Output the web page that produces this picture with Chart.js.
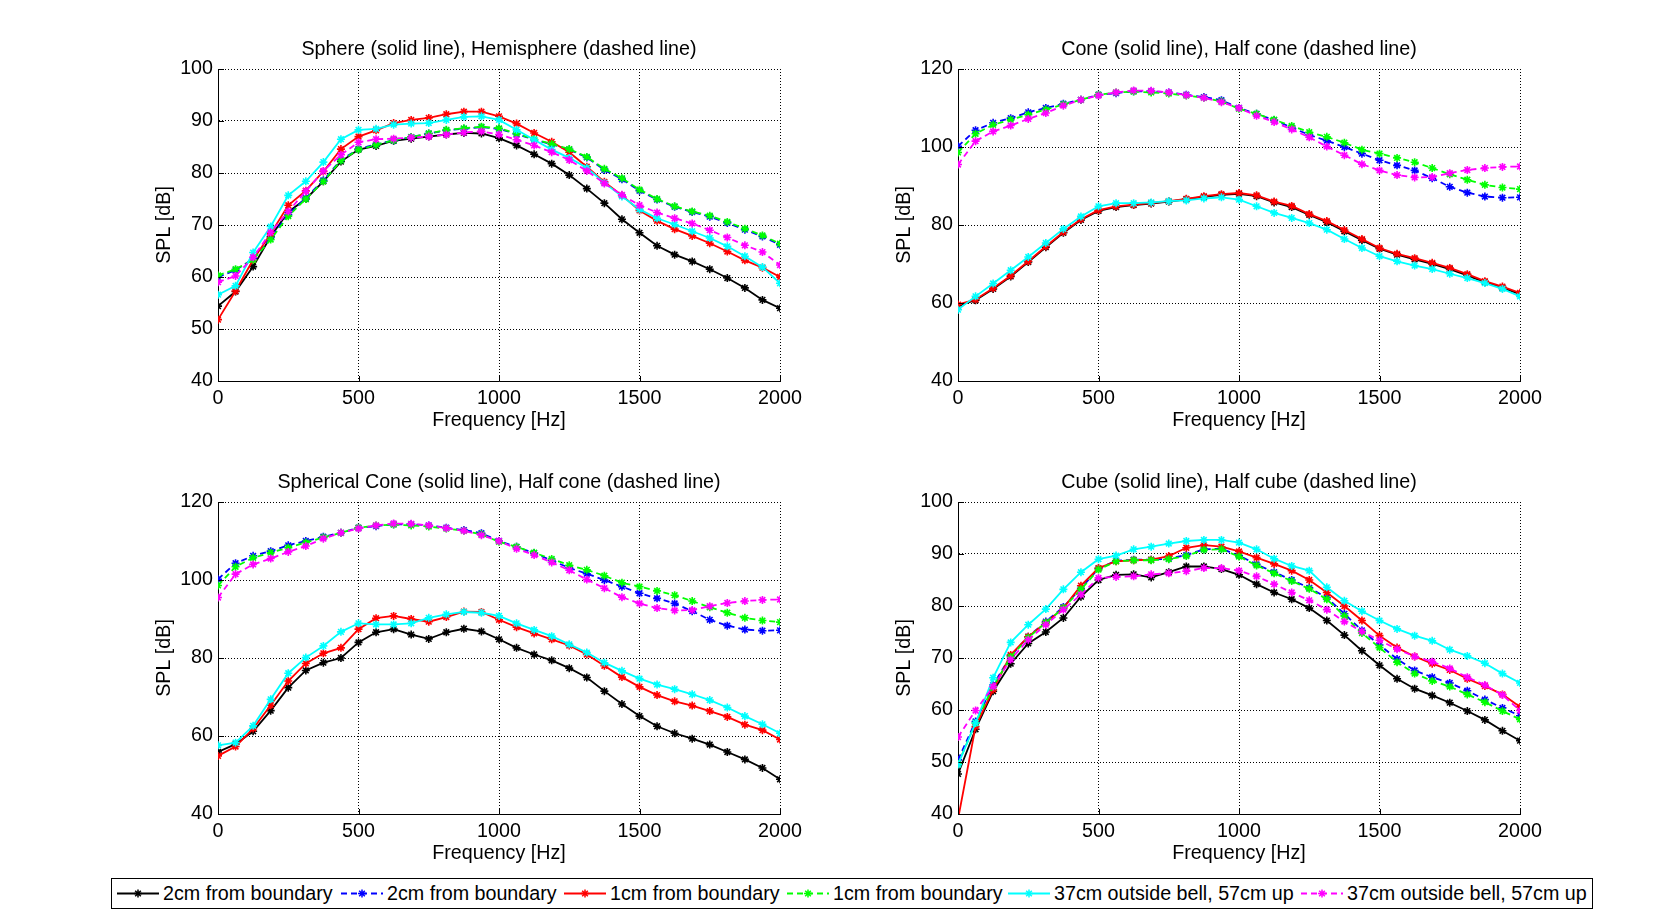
<!DOCTYPE html>
<html>
<head>
<meta charset="utf-8">
<script src="https://cdn.jsdelivr.net/npm/chart.js@4.4.1/dist/chart.umd.min.js"></script>
<style>
  html, body { margin: 0; padding: 0; background: #fff; width: 1680px; height: 915px; overflow: hidden; }
  .panel { position: absolute; }
  .panel canvas { display: block; }
  #legend { position: absolute; left: 111px; top: 878px; width: 1482px; height: 31px; box-sizing: border-box;
            border: 1px solid #000; background: #fff; font-family: "Liberation Sans", Arial, Helvetica, sans-serif; font-size: 19.7px; color: #000; }
  #legend span { position: absolute; top: 0; height: 29px; line-height: 29px; white-space: nowrap; }
  #legend svg { position: absolute; left: -1px; top: -1px; }
</style>
</head>
<body>
<div class="panel" style="left:118px;top:19px"><canvas id="c1" width="712" height="422"></canvas></div>
<div class="panel" style="left:858px;top:19px"><canvas id="c2" width="712" height="422"></canvas></div>
<div class="panel" style="left:118px;top:452px"><canvas id="c3" width="712" height="422"></canvas></div>
<div class="panel" style="left:858px;top:452px"><canvas id="c4" width="712" height="422"></canvas></div>
<div id="legend"></div>
<script>
// ---------------- data ----------------
const freq = [0, 62.5, 125, 187.5, 250, 312.5, 375, 437.5, 500, 562.5, 625, 687.5, 750, 812.5, 875, 937.5,
  1000, 1062.5, 1125, 1187.5, 1250, 1312.5, 1375, 1437.5, 1500, 1562.5, 1625, 1687.5, 1750, 1812.5, 1875, 1937.5, 2000];

const seriesNames = ['2cm from boundary', '2cm from boundary', '1cm from boundary', '1cm from boundary',
  '37cm outside bell, 57cm up', '37cm outside bell, 57cm up'];

const panelTitles = [
  'Sphere (solid line), Hemisphere (dashed line)',
  'Cone (solid line), Half cone (dashed line)',
  'Spherical Cone (solid line), Half cone (dashed line)',
  'Cube (solid line), Half cube (dashed line)'
];

const xTicks = [0, 500, 1000, 1500, 2000];
const yTicksA = [40, 50, 60, 70, 80, 90, 100];
const yTicksB = [40, 60, 80, 100, 120];

// Sphere / Hemisphere
const sphereBlack   = [54.4, 57.2, 62.0, 67.8, 72.5, 75.0, 78.4, 82.2, 84.5, 85.2, 86.2, 86.6, 87.0, 87.4, 87.7, 87.6, 86.7, 85.3, 83.6, 81.8, 79.6, 77.0, 74.2, 71.1, 68.5, 66.0, 64.3, 63.0, 61.5, 59.8, 57.9, 55.6, 54.0];
const sphereBlue    = [60.0, 61.3, 63.5, 67.6, 72.0, 75.2, 78.6, 82.5, 84.6, 85.5, 86.3, 86.9, 87.6, 88.2, 88.5, 88.8, 88.5, 87.5, 86.4, 85.5, 84.5, 83.0, 80.6, 78.8, 76.6, 74.9, 73.5, 72.5, 71.6, 70.4, 69.1, 67.8, 66.2];
const sphereRed     = [51.8, 57.3, 63.3, 68.3, 73.8, 76.6, 80.3, 84.6, 87.0, 88.2, 89.6, 90.2, 90.6, 91.3, 91.8, 91.8, 90.9, 89.5, 87.7, 86.0, 84.0, 81.2, 78.3, 75.7, 72.8, 70.8, 69.2, 67.9, 66.5, 64.9, 63.2, 61.8, 60.0];
const sphereGreen   = [60.3, 61.5, 63.3, 67.2, 71.7, 75.0, 78.4, 82.4, 84.5, 85.4, 86.3, 86.9, 87.6, 88.3, 88.6, 88.9, 88.6, 87.6, 86.5, 85.6, 84.6, 83.1, 80.8, 79.0, 76.8, 75.0, 73.6, 72.6, 71.8, 70.6, 69.3, 68.0, 66.4];
const sphereCyan    = [56.6, 58.3, 64.7, 69.7, 75.7, 78.4, 82.1, 86.5, 88.3, 88.5, 89.3, 89.5, 89.6, 90.2, 90.8, 90.9, 90.2, 88.3, 86.4, 84.5, 82.9, 81.0, 78.1, 75.5, 73.0, 71.3, 70.1, 68.8, 67.5, 65.9, 64.0, 61.9, 58.8];
const sphereMagenta = [59.0, 60.2, 63.8, 68.6, 72.6, 76.5, 80.4, 83.5, 85.9, 86.5, 86.6, 86.8, 87.0, 87.4, 87.8, 88.0, 87.4, 86.4, 85.3, 84.0, 82.5, 80.4, 78.0, 75.8, 73.8, 72.4, 71.3, 70.3, 69.0, 67.6, 66.1, 64.8, 62.3];

// Cone (solid)
const coneBlack   = [59.3, 60.7, 63.6, 66.8, 70.5, 74.3, 78.0, 81.3, 83.6, 84.6, 85.1, 85.5, 86.0, 86.6, 87.2, 87.7, 88.0, 87.4, 85.8, 84.6, 82.6, 80.7, 78.4, 76.1, 73.9, 72.4, 71.2, 70.0, 68.7, 67.1, 65.3, 63.9, 62.3];
const coneRed     = [59.6, 60.9, 63.8, 67.0, 70.7, 74.5, 78.2, 81.5, 83.8, 84.8, 85.2, 85.6, 86.1, 86.7, 87.4, 87.9, 88.2, 87.6, 86.0, 84.9, 82.8, 81.0, 78.7, 76.4, 74.1, 72.6, 71.5, 70.3, 69.0, 67.4, 65.6, 64.2, 62.6];
const coneCyan    = [58.3, 61.7, 65.0, 68.4, 71.8, 75.4, 79.0, 82.2, 84.8, 85.6, 85.6, 85.8, 86.1, 86.3, 86.8, 87.1, 86.5, 84.8, 83.1, 81.8, 80.5, 78.8, 76.4, 74.1, 72.0, 70.7, 69.6, 68.7, 67.5, 66.4, 65.1, 63.6, 61.7];

// Half cone (dashed) - shared by the two cone panels
const halfConeBlue    = [100.2, 104.3, 106.2, 107.4, 108.9, 110.0, 111.1, 112.1, 113.4, 113.8, 114.3, 114.3, 114.0, 113.4, 112.8, 112.0, 110.0, 108.5, 106.9, 105.0, 103.1, 101.6, 100.0, 98.3, 96.6, 95.3, 94.0, 92.0, 89.8, 88.3, 87.3, 87.0, 87.1];
const halfConeGreen   = [98.6, 103.4, 105.7, 107.0, 108.3, 109.6, 110.9, 112.1, 113.4, 114.0, 114.2, 114.0, 113.7, 113.2, 112.6, 111.7, 109.8, 108.5, 107.0, 105.4, 103.8, 102.6, 101.1, 99.3, 98.3, 97.2, 96.1, 94.6, 93.0, 91.6, 90.3, 89.6, 89.2];
const halfConeMagenta = [95.5, 101.5, 104.0, 105.5, 107.2, 108.7, 110.6, 112.1, 113.2, 114.0, 114.5, 114.4, 114.0, 113.3, 112.6, 111.5, 110.0, 108.0, 106.4, 104.5, 102.5, 100.1, 97.9, 95.6, 94.0, 92.8, 92.2, 92.3, 93.3, 94.1, 94.6, 94.9, 95.0];

// Spherical cone (solid)
const sphConeBlack = [55.9, 57.9, 61.2, 66.5, 72.4, 76.8, 78.8, 80.0, 84.0, 86.6, 87.4, 86.0, 84.9, 86.6, 87.5, 86.8, 84.8, 82.6, 80.9, 79.4, 77.4, 75.0, 71.5, 68.2, 65.1, 62.5, 60.7, 59.3, 57.8, 55.9, 54.0, 51.8, 48.9];
const sphConeRed   = [54.9, 57.3, 61.9, 67.9, 74.1, 78.6, 81.2, 82.6, 87.4, 90.2, 90.8, 90.0, 89.3, 90.5, 91.9, 91.8, 89.8, 87.9, 86.3, 84.8, 83.2, 80.9, 78.0, 75.1, 72.6, 70.5, 68.9, 67.8, 66.4, 64.9, 62.9, 61.5, 59.1];
const sphConeCyan  = [57.6, 58.3, 62.6, 69.4, 76.1, 80.1, 83.1, 86.7, 88.9, 88.6, 88.6, 88.9, 90.3, 91.2, 91.8, 91.6, 90.8, 88.9, 87.2, 85.6, 83.5, 81.4, 78.8, 76.7, 74.7, 73.2, 72.0, 70.7, 69.2, 67.3, 65.1, 63.0, 60.7];

// Cube / Half cube
const cubeBlack   = [47.7, 56.3, 63.6, 68.9, 72.8, 75.0, 77.7, 81.8, 85.0, 86.0, 86.1, 85.5, 86.5, 87.6, 87.6, 87.1, 86.0, 84.2, 82.6, 81.3, 79.6, 77.2, 74.4, 71.4, 68.6, 66.0, 64.1, 62.8, 61.4, 59.8, 58.1, 56.0, 54.1];
const cubeBlue    = [50.4, 57.8, 64.8, 70.4, 74.1, 77.0, 79.8, 83.4, 87.2, 88.7, 88.9, 88.9, 89.1, 89.8, 90.9, 91.0, 89.7, 88.0, 86.5, 85.0, 83.5, 81.6, 78.5, 75.3, 72.5, 69.8, 67.6, 66.3, 65.2, 63.7, 62.0, 60.4, 58.9];
const cubeRed     = [39.0, 56.8, 63.9, 70.6, 74.1, 76.8, 79.6, 83.9, 87.3, 88.6, 88.8, 88.9, 89.6, 91.2, 91.7, 91.4, 90.5, 89.3, 88.1, 86.8, 85.0, 82.6, 80.0, 77.2, 74.3, 72.0, 70.3, 68.9, 67.7, 66.0, 64.6, 63.0, 60.6];
const cubeGreen   = [49.6, 57.5, 64.5, 70.2, 73.9, 76.8, 79.6, 83.2, 87.0, 88.6, 88.8, 88.8, 89.0, 89.6, 90.8, 90.9, 89.5, 87.8, 86.3, 84.8, 83.3, 81.3, 78.1, 74.8, 72.0, 69.2, 67.0, 65.6, 64.5, 63.0, 61.5, 59.8, 58.2];
const cubeCyan    = [49.5, 57.5, 66.2, 73.0, 76.4, 79.4, 83.2, 86.5, 89.0, 89.7, 90.9, 91.4, 92.0, 92.5, 92.7, 92.7, 92.2, 90.9, 89.1, 87.7, 86.8, 83.6, 81.0, 79.0, 77.2, 75.6, 74.3, 73.3, 71.6, 70.4, 69.0, 67.0, 65.2];
const cubeMagenta = [54.8, 59.9, 64.5, 69.7, 73.5, 76.4, 79.3, 82.2, 85.4, 85.6, 85.7, 86.1, 86.3, 86.7, 87.3, 87.3, 86.8, 85.7, 84.2, 82.6, 81.1, 79.3, 77.0, 75.1, 73.4, 71.7, 70.3, 69.3, 68.0, 66.3, 64.8, 62.9, 59.9];

// ---------------- styles ----------------
const FONT = '"Liberation Sans", Arial, Helvetica, sans-serif';
const FS = 19.7;
const seriesColors = ['#000000', '#0000ff', '#ff0000', '#00ff00', '#00ffff', '#ff00ff'];
const seriesDashed = [false, true, false, true, false, true];

const panels = [
  { id: 'c1', title: panelTitles[0], yTicks: yTicksA,
    series: [sphereBlack, sphereBlue, sphereRed, sphereGreen, sphereCyan, sphereMagenta] },
  { id: 'c2', title: panelTitles[1], yTicks: yTicksB,
    series: [coneBlack, halfConeBlue, coneRed, halfConeGreen, coneCyan, halfConeMagenta] },
  { id: 'c3', title: panelTitles[2], yTicks: yTicksB,
    series: [sphConeBlack, halfConeBlue, sphConeRed, halfConeGreen, sphConeCyan, halfConeMagenta] },
  { id: 'c4', title: panelTitles[3], yTicks: yTicksA,
    series: [cubeBlack, cubeBlue, cubeRed, cubeGreen, cubeCyan, cubeMagenta] }
];

const inwardTicks = {
  id: 'inwardTicks',
  afterDraw(chart) {
    const { ctx, chartArea: a, scales: { x, y } } = chart;
    ctx.save();
    ctx.strokeStyle = '#000';
    ctx.lineWidth = 1;
    ctx.beginPath();
    x.ticks.forEach(t => {
      const px = Math.round(x.getPixelForValue(t.value)) + 0.5;
      ctx.moveTo(px, Math.round(a.bottom) + 0.5);
      ctx.lineTo(px, Math.round(a.bottom) - 5);
    });
    y.ticks.forEach(t => {
      const py = Math.round(y.getPixelForValue(t.value)) + 0.5;
      ctx.moveTo(Math.round(a.left) + 0.5, py);
      ctx.lineTo(Math.round(a.left) + 6, py);
    });
    ctx.stroke();
    ctx.restore();
  }
};

function fontSpec() { return { family: FONT, size: FS, weight: 'normal', lineHeight: 1.2 }; }

panels.forEach(p => {
  const yMin = p.yTicks[0], yMax = p.yTicks[p.yTicks.length - 1];
  const datasets = p.series.map((vals, i) => ({
    label: seriesNames[i],
    data: freq.map((f, k) => ({ x: f, y: vals[k] })),
    borderColor: seriesColors[i],
    backgroundColor: seriesColors[i],
    borderWidth: 1.8,
    borderDash: seriesDashed[i] ? [6, 4] : [],
    pointStyle: 'star',
    pointRadius: 4,
    pointBorderWidth: 1.6,
    pointBorderColor: seriesColors[i],
    pointHoverRadius: 4,
    tension: 0,
    fill: false,
    order: 6 - i
  }));
  new Chart(document.getElementById(p.id), {
    type: 'line',
    data: { datasets },
    plugins: [inwardTicks],
    options: {
      responsive: false,
      animation: false,
      devicePixelRatio: 1,
      events: [],
      layout: { padding: { left: 0, top: 0, right: 50, bottom: 0 } },
      plugins: {
        legend: { display: false },
        tooltip: { enabled: false },
        title: { display: true, fullSize: false, text: p.title, color: '#000', font: fontSpec(), padding: { top: 19.1, bottom: 7.26 } }
      },
      scales: {
        x: {
          type: 'linear', min: 0, max: 2000,
          afterBuildTicks: s => { s.ticks = xTicks.map(v => ({ value: v })); },
          ticks: { color: '#000', font: fontSpec(), padding: 5.4, maxRotation: 0, autoSkip: false, callback: v => String(v) },
          grid: { color: '#000', lineWidth: 1, drawTicks: false },
          border: { display: true, color: '#000', width: 1, dash: [1, 2] },
          title: { display: true, text: 'Frequency [Hz]', color: '#000', font: fontSpec(), padding: { top: 0, bottom: 8.2 } },
          afterFit: s => { s.height = 60; s.paddingLeft = 0; s.paddingRight = 0; }
        },
        y: {
          type: 'linear', min: yMin, max: yMax,
          afterBuildTicks: s => { s.ticks = p.yTicks.map(v => ({ value: v })); },
          ticks: { color: '#000', font: fontSpec(), padding: 5, autoSkip: false, callback: v => String(v) },
          grid: { color: '#000', lineWidth: 1, drawTicks: false },
          border: { display: true, color: '#000', width: 1, dash: [1, 2] },
          title: { display: true, text: 'SPL [dB]', color: '#000', font: fontSpec(), padding: { top: 35, bottom: 0 } },
          afterFit: s => { s.width = 100; s.paddingTop = 0; s.paddingBottom = 0; }
        }
      }
    }
  });
});

// ---------------- legend ----------------
const legendTextX = [163, 387, 610, 833, 1054, 1347];
const legend = document.getElementById('legend');
const NS = 'http://www.w3.org/2000/svg';
const svg = document.createElementNS(NS, 'svg');
svg.setAttribute('width', '1482');
svg.setAttribute('height', '31');
legend.appendChild(svg);
seriesNames.forEach((name, i) => {
  const tx = legendTextX[i] - 111;
  const x1 = tx - 46, x2 = tx - 4, cy = 15.5, cx = (x1 + x2) / 2;
  const line = document.createElementNS(NS, 'line');
  line.setAttribute('x1', x1); line.setAttribute('x2', x2);
  line.setAttribute('y1', cy); line.setAttribute('y2', cy);
  line.setAttribute('stroke', seriesColors[i]);
  line.setAttribute('stroke-width', '1.8');
  if (seriesDashed[i]) line.setAttribute('stroke-dasharray', '6 4');
  svg.appendChild(line);
  const r = 4, d = r * Math.SQRT1_2;
  const m = document.createElementNS(NS, 'path');
  m.setAttribute('d', `M${cx - r} ${cy}H${cx + r}M${cx} ${cy - r}V${cy + r}M${cx - d} ${cy - d}L${cx + d} ${cy + d}M${cx - d} ${cy + d}L${cx + d} ${cy - d}`);
  m.setAttribute('stroke', seriesColors[i]);
  m.setAttribute('stroke-width', '1.5');
  svg.appendChild(m);
  const span = document.createElement('span');
  span.textContent = name;
  span.style.left = (tx - 1) + 'px';
  legend.appendChild(span);
});
</script>
</body>
</html>
